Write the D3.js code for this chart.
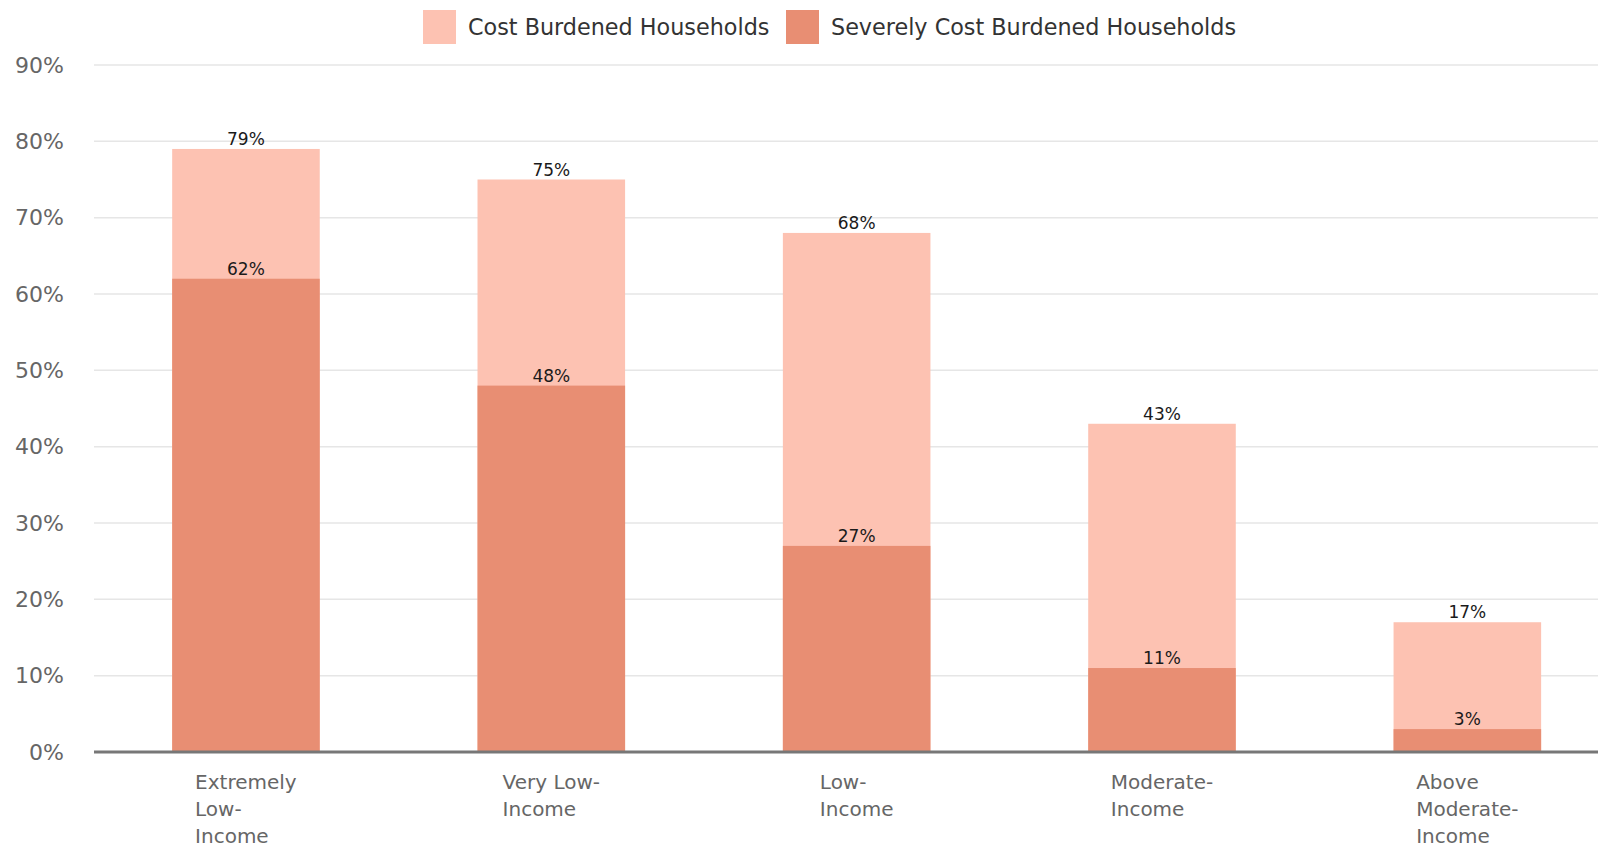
<!DOCTYPE html>
<html>
<head>
<meta charset="utf-8">
<script src="https://cdn.jsdelivr.net/npm/d3@7"></script>
<style>
  body { margin: 0; background: #fff; }
  svg { display: block; font-family: "DejaVu Sans", sans-serif; }
</style>
</head>
<body>
<svg id="chart" width="1598" height="847"></svg>
<script>
// Chart data
var categories = ["Extremely Low-Income", "Very Low-Income", "Low-Income", "Moderate-Income", "Above Moderate-Income"];
var categoryLines = [["Extremely", "Low-", "Income"], ["Very Low-", "Income"], ["Low-", "Income"], ["Moderate-", "Income"], ["Above", "Moderate-", "Income"]];
var costBurdened = [79, 75, 68, 43, 17];
var severelyBurdened = [62, 48, 27, 11, 3];
var yTicks = [0, 10, 20, 30, 40, 50, 60, 70, 80, 90];
var seriesNames = ["Cost Burdened Households", "Severely Cost Burdened Households"];
var seriesColors = ["#fdc2b2", "#e88e73"];

var plotLeft = 94, plotRight = 1598, plotTop = 65, plotBottom = 752;

var svg = d3.select('#chart');

var x = d3.scaleBand()
          .domain(categories)
          .range([93.3, 1620])
          .paddingInner(0.5167)
          .paddingOuter(0.2583);

var y = d3.scaleLinear()
          .domain([0, 90])
          .range([plotBottom, plotTop]);

// Gridlines
svg.append("g")
   .selectAll("line")
   .data(yTicks.slice(1))
   .enter()
   .append("line")
   .attr("x1", plotLeft)
   .attr("x2", plotRight)
   .attr("y1", (d) => y(d))
   .attr("y2", (d) => y(d))
   .attr("stroke", "#e6e6e6")
   .attr("stroke-width", 1.5);

// Y axis labels
var yAxis = d3.axisLeft(y)
              .tickValues(yTicks)
              .tickSize(0)
              .tickPadding(0)
              .tickFormat((d) => d + "%");

var yG = svg.append("g")
   .attr("transform", "translate(64, 0)")
   .call(yAxis);
yG.select(".domain").remove();
yG.selectAll("text")
  .attr("font-size", 22)
  .attr("fill", "#666")
  .attr("font-family", "DejaVu Sans, sans-serif");

// Bars: total cost burdened (light) with severe (dark) in front
svg.append("g")
   .selectAll("rect")
   .data(costBurdened)
   .enter()
   .append("rect")
   .attr("x", (d, i) => x(categories[i]))
   .attr("width", x.bandwidth())
   .attr("y", (d) => y(d))
   .attr("height", (d) => y(0) - y(d))
   .attr("fill", seriesColors[0]);

svg.append("g")
   .selectAll("rect")
   .data(severelyBurdened)
   .enter()
   .append("rect")
   .attr("x", (d, i) => x(categories[i]))
   .attr("width", x.bandwidth())
   .attr("y", (d) => y(d))
   .attr("height", (d) => y(0) - y(d))
   .attr("fill", seriesColors[1]);

// Value labels
[costBurdened, severelyBurdened].forEach(function(series) {
  svg.append("g")
     .selectAll("text")
     .data(series)
     .enter()
     .append("text")
     .attr("x", (d, i) => x(categories[i]) + x.bandwidth() / 2)
     .attr("y", (d) => y(d) - 4)
     .attr("text-anchor", "middle")
     .attr("font-size", 17)
     .attr("fill", "#1a1a1a")
     .text((d) => d + "%");
});

// Baseline
svg.append("line")
   .attr("x1", plotLeft)
   .attr("x2", plotRight)
   .attr("y1", y(0))
   .attr("y2", y(0))
   .attr("stroke", "#777")
   .attr("stroke-width", 3);

// X labels: block centred under bar, lines left aligned
var xLab = svg.append("g")
   .selectAll("text")
   .data(categories)
   .enter()
   .append("text")
   .attr("font-size", 20)
   .attr("fill", "#666");

xLab.each(function(d, i) {
  var t = d3.select(this);
  categoryLines[i].forEach(function(line, j) {
    t.append("tspan")
     .attr("x", 0)
     .attr("y", 789 + j * 27)
     .text(line);
  });
  var w = this.getBBox().width;
  var x0 = x(d) + x.bandwidth() / 2 - w / 2;
  t.selectAll("tspan").attr("x", x0);
});

// Legend
var legend = svg.append("g");
var legendX = [423, 786];
seriesNames.forEach(function(name, i) {
  legend.append("rect")
        .attr("x", legendX[i])
        .attr("y", 10)
        .attr("width", 33)
        .attr("height", 34)
        .attr("fill", seriesColors[i]);
  legend.append("text")
        .attr("x", legendX[i] + 45)
        .attr("y", 35)
        .attr("font-size", 22.3)
        .attr("fill", "#333")
        .text(name);
});
</script>
</body>
</html>
